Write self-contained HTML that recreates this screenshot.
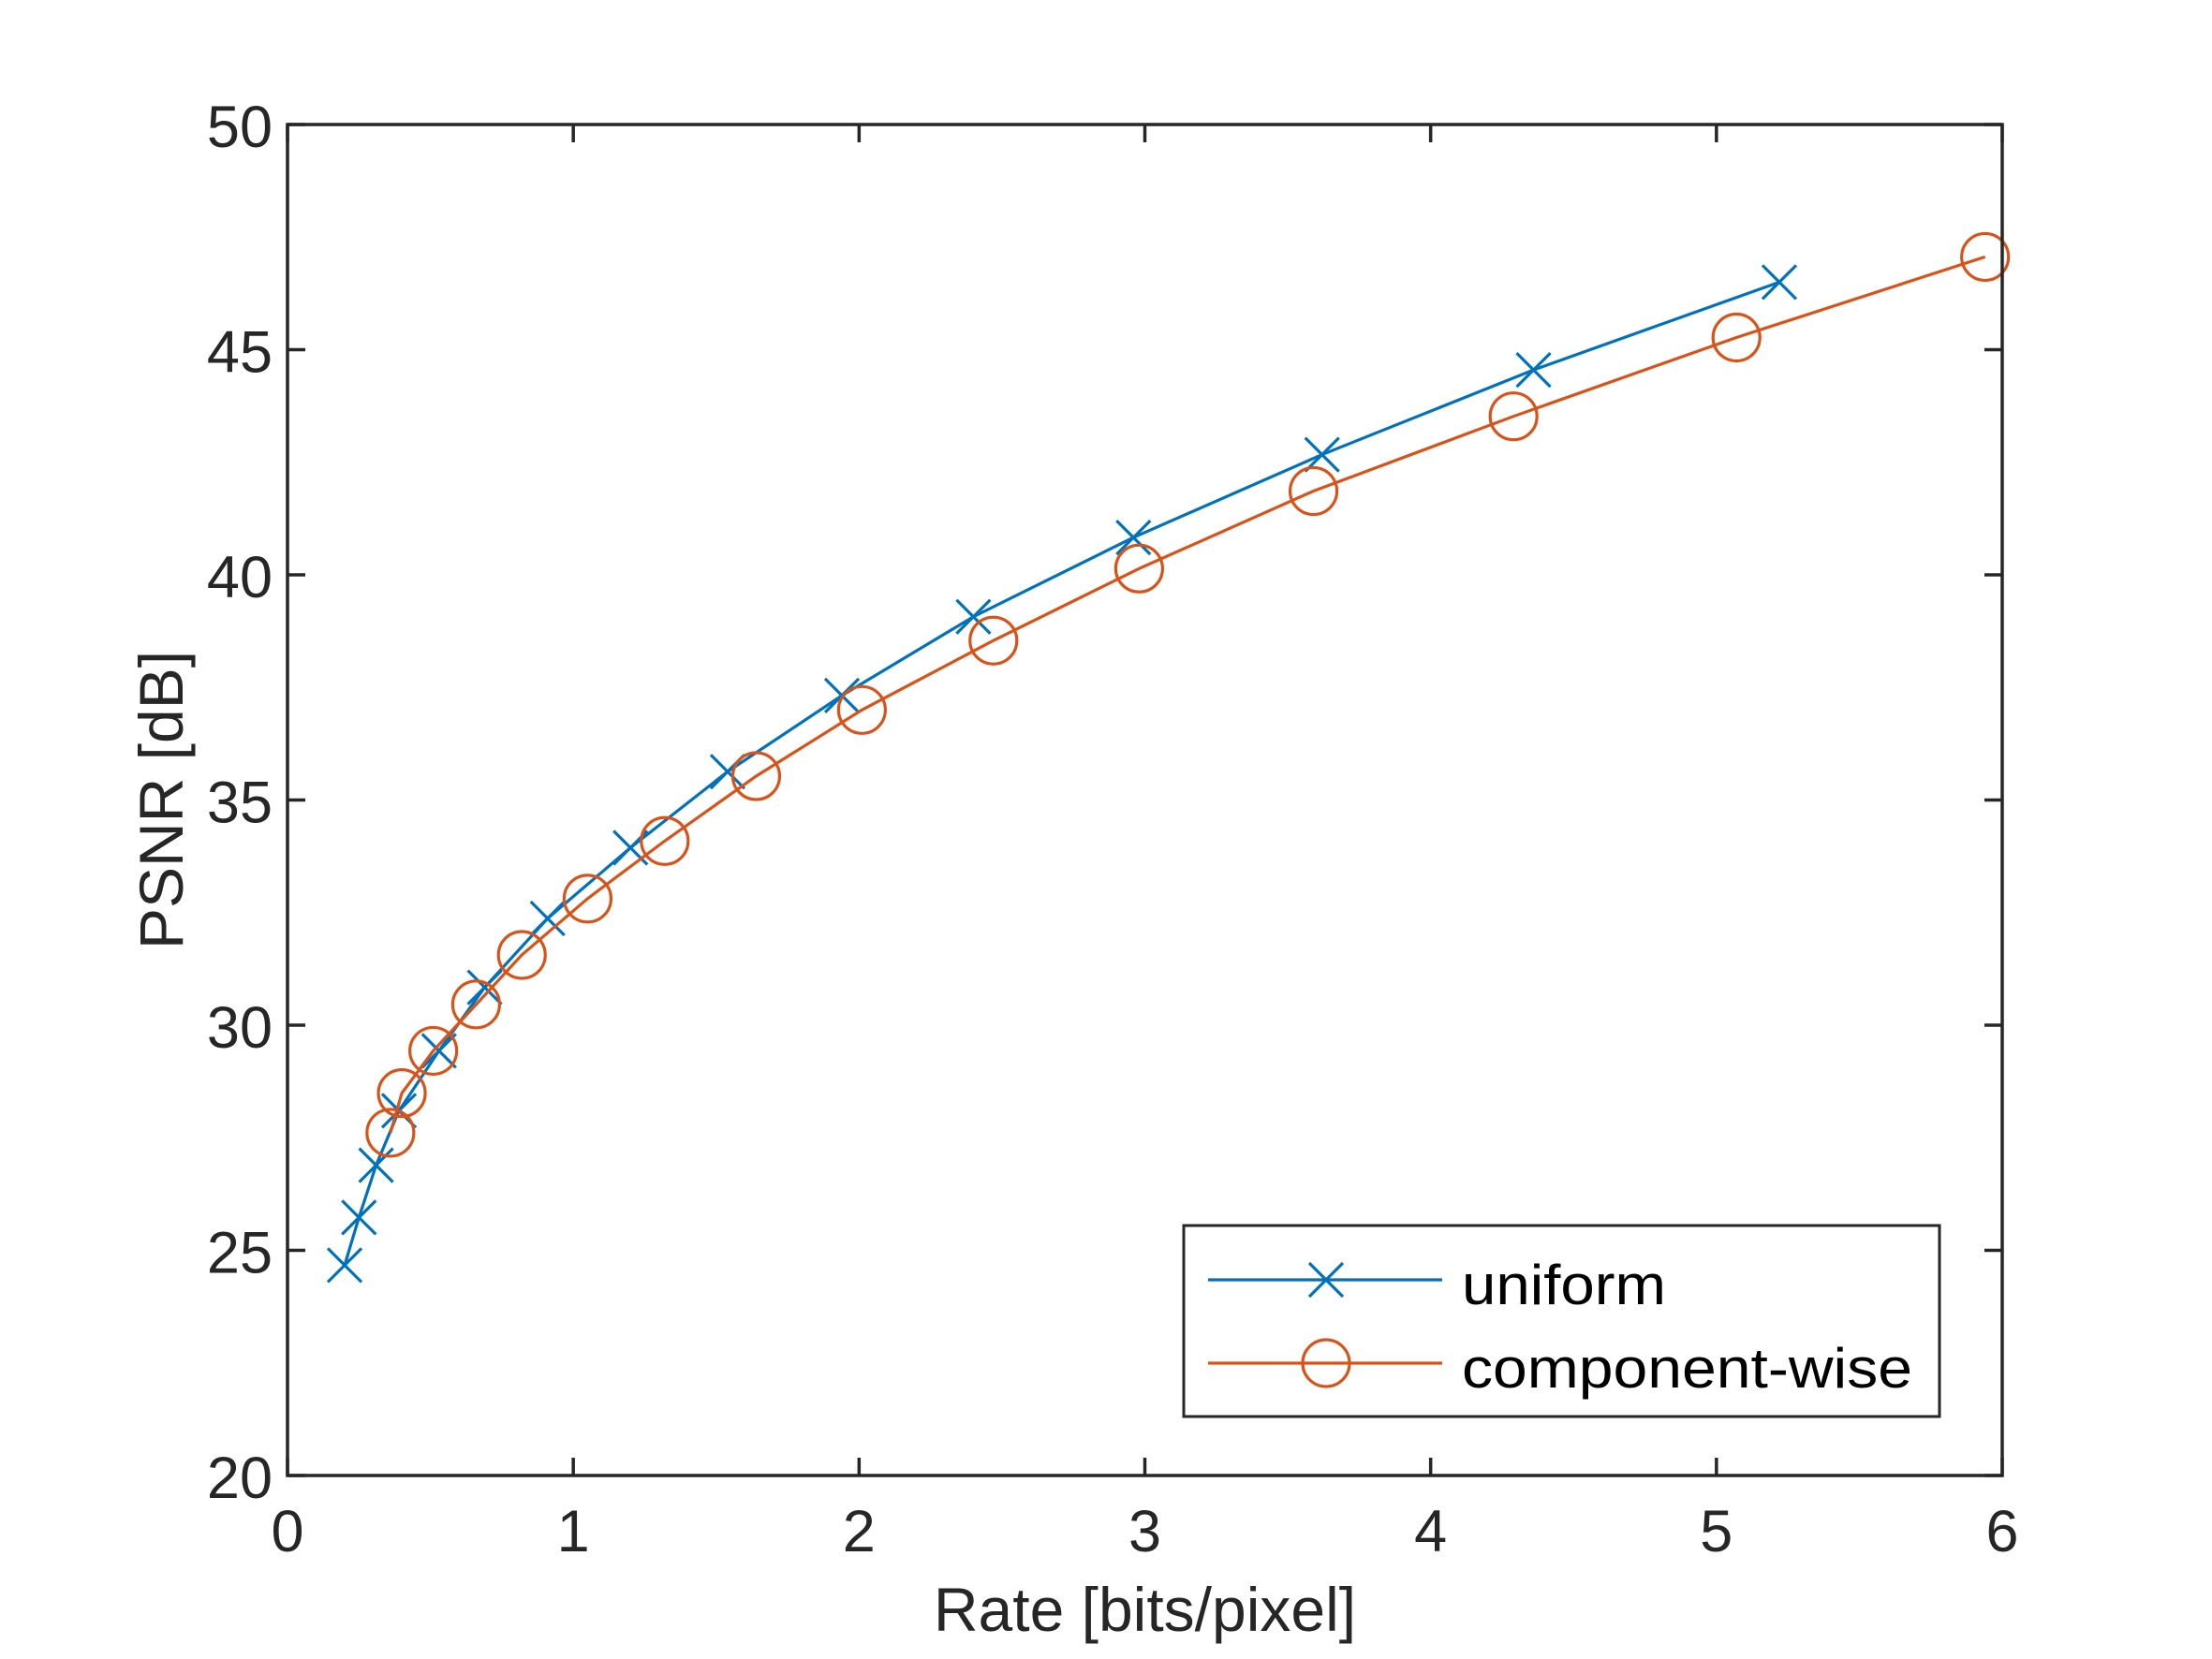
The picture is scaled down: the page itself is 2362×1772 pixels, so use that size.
<!DOCTYPE html>
<html><head><meta charset="utf-8"><style>
html,body{margin:0;padding:0;background:#fff;}
svg{display:block;font-family:"Liberation Sans",Arial,sans-serif;}
</style></head><body>
<svg id="chart" width="2362" height="1772" viewBox="0 0 2362 1772">
<rect x="0" y="0" width="2362" height="1772" fill="#fff"/>
<g id="series"></g>
<g id="axes"></g>
</svg>
<script>
const xTicks=[0,1,2,3,4,5,6];
const yTicks=[20,25,30,35,40,45,50];
const uniformX=[0.20,0.25,0.31,0.39,0.53,0.69,0.91,1.20,1.54,1.94,2.40,2.96,3.62,4.36,5.22];
const uniformY=[24.67,25.73,26.89,28.1,29.43,30.84,32.37,33.94,35.63,37.32,39.07,40.83,42.67,44.55,46.5];
const compX=[0.36,0.40,0.51,0.66,0.82,1.05,1.32,1.64,2.01,2.47,2.98,3.59,4.29,5.07,5.94];
const compY=[27.61,28.49,29.43,30.46,31.56,32.81,34.09,35.53,37.0,38.54,40.14,41.86,43.52,45.27,47.06];

const L=307,R=2138,T=133,B=1576;
const xmin=0,xmax=6,ymin=20,ymax=50;
const sx=v=>L+(v-xmin)/(xmax-xmin)*(R-L);
const sy=v=>B-(v-ymin)/(ymax-ymin)*(B-T);
const NS="http://www.w3.org/2000/svg";
function mk(tag,attrs,parent){const e=document.createElementNS(NS,tag);for(const k in attrs)e.setAttribute(k,attrs[k]);parent.appendChild(e);return e;}
const gS=document.getElementById('series'),gA=document.getElementById('axes');
const blue="#0072BD",red="#D95319",ax="#262626";

function drawSeries(xs,ys,color,name,marker){
  const g=mk('g',{},gS);
  
  
  const pl=mk('polyline',{points:xs.map((x,i)=>sx(x)+','+sy(ys[i])).join(' '),fill:'none',stroke:color,'stroke-width':3.2},g);
  
  
  xs.forEach((x,i)=>{
    const cx=sx(x),cy=sy(ys[i]);let m;
    if(marker==='x'){m=mk('path',{d:`M${cx-18},${cy-18}L${cx+18},${cy+18}M${cx-18},${cy+18}L${cx+18},${cy-18}`,stroke:color,'stroke-width':3.2,fill:'none'},g);}
    else{m=mk('circle',{cx:cx,cy:cy,r:25,stroke:color,'stroke-width':3.2,fill:'none'},g);}
    
    
  });
}
drawSeries(uniformX,uniformY,blue,'uniform','x');
drawSeries(compX,compY,red,'component-wise','o');

const box=mk('rect',{x:L,y:T,width:R-L,height:B-T,fill:'none',stroke:ax,'stroke-width':3.5},gA);


xTicks.forEach(v=>{
  const x=sx(v);
  mk('line',{x1:x,y1:B,x2:x,y2:B-19,stroke:ax,'stroke-width':3.5},gA);
  mk('line',{x1:x,y1:T,x2:x,y2:T+19,stroke:ax,'stroke-width':3.5},gA);
  const t=mk('text',{x:x,y:1657,'text-anchor':'middle','font-size':63,fill:ax},gA);
  t.textContent=v;
  
  
});
yTicks.forEach(v=>{
  const y=sy(v);
  mk('line',{x1:L,y1:y,x2:L+19,y2:y,stroke:ax,'stroke-width':3.5},gA);
  mk('line',{x1:R,y1:y,x2:R-19,y2:y,stroke:ax,'stroke-width':3.5},gA);
  const t=mk('text',{x:291,y:y+24,'text-anchor':'end','font-size':63,fill:ax},gA);
  t.textContent=v;
  
  
});
const xl=mk('text',{x:(L+R)/2,y:1742,'text-anchor':'middle','font-size':66,fill:ax},gA);
xl.textContent='Rate [bits/pixel]';


const yl=mk('text',{x:0,y:0,'text-anchor':'middle','font-size':66,fill:ax,transform:`translate(195,${(T+B)/2}) rotate(-90)`},gA);
yl.textContent='PSNR [dB]';



const lg=mk('g',{},gA);


mk('rect',{x:1264,y:1309,width:807,height:204,fill:'#fff',stroke:'#262626','stroke-width':3},lg);
const ent=[['uniform',blue,'x',1367,1393,218],['component-wise',red,'o',1456,1482,481]];
ent.forEach(e=>{
  const g=mk('g',{},lg);
  
  
  const y=e[3];
  mk('line',{x1:1290,y1:y,x2:1540,y2:y,stroke:e[1],'stroke-width':3.2},g);
  if(e[2]==='x')mk('path',{d:`M${1416-18},${y-18}L${1416+18},${y+18}M${1416-18},${y+18}L${1416+18},${y-18}`,stroke:e[1],'stroke-width':3.2,fill:'none'},g);
  else mk('circle',{cx:1416,cy:y,r:25,stroke:e[1],'stroke-width':3.2,fill:'none'},g);
  const t=mk('text',{x:1561,y:e[4],'font-size':60,fill:'#000',textLength:e[5],lengthAdjust:'spacingAndGlyphs'},g);
  t.textContent=e[0];
});
</script>
</body></html>
